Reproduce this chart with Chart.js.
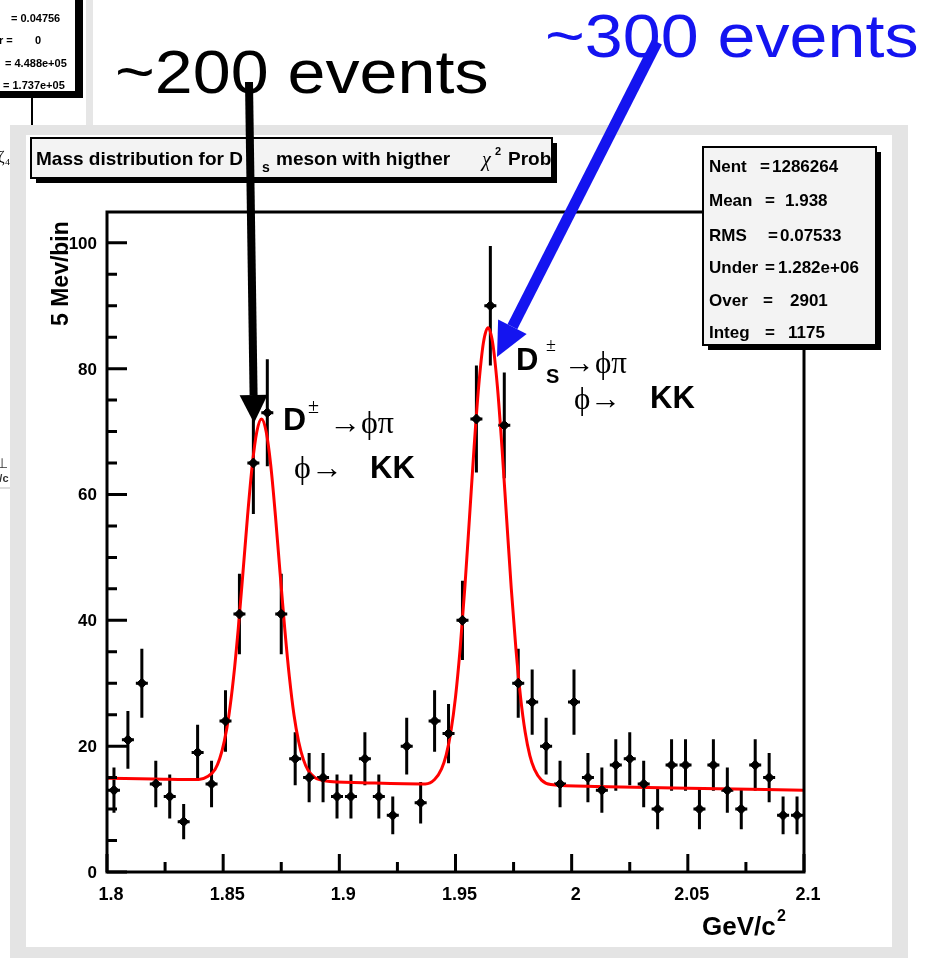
<!DOCTYPE html>
<html>
<head>
<meta charset="utf-8">
<script src="https://cdn.jsdelivr.net/npm/chart.js@4.4.1/dist/chart.umd.min.js"></script>
<style>
  html, body { margin: 0; padding: 0; background: #fff; overflow: hidden; }
  canvas { display: block; }
</style>
</head>
<body>
<canvas id="c" width="933" height="958"></canvas>
<script>
// histogram: 50 bins from 1.8 to 2.1 GeV/c^2
const xRange = [1.8, 2.1];
const counts = [13, 21, 30, 14, 12, 8, 19, 14, 24, 41,
                65, 73, 41, 18, 15, 15, 12, 12, 18, 12,
                9, 20, 11, 24, 22, 40, 72, 90, 71, 30,
                27, 20, 14, 27, 15, 13, 17, 18, 14, 10,
                17, 17, 10, 17, 13, 10, 17, 15, 9, 9];
const errors = [3.6, 4.6, 5.5, 3.7, 3.5, 2.8, 4.4, 3.7, 4.9, 6.4,
                8.1, 8.5, 6.4, 4.2, 3.9, 3.9, 3.5, 3.5, 4.2, 3.5,
                3.0, 4.5, 3.3, 4.9, 4.7, 6.3, 8.5, 9.5, 8.4, 5.5,
                5.2, 4.5, 3.7, 5.2, 3.9, 3.6, 4.1, 4.2, 3.7, 3.2,
                4.1, 4.1, 3.2, 4.1, 3.6, 3.2, 4.1, 3.9, 3.0, 3.0];

// red fit curve
const fitX = [1.800, 1.820, 1.8395, 1.8435, 1.8465, 1.8485, 1.8505, 1.8525, 1.8545, 1.8565,
              1.8585, 1.8605, 1.8625, 1.8645, 1.8665, 1.8685, 1.8705, 1.8725, 1.8745, 1.8765,
              1.8785, 1.8805, 1.8825, 1.8845, 1.8865, 1.8895, 1.8935, 1.910, 1.937, 1.941,
              1.944, 1.946, 1.948, 1.950, 1.952, 1.954, 1.956, 1.958, 1.960, 1.962,
              1.964, 1.966, 1.968, 1.970, 1.972, 1.974, 1.976, 1.978, 1.980, 1.982,
              1.984, 1.987, 1.991, 2.010, 2.050, 2.100];
const fitY = [14.9, 14.8, 14.7, 15.2, 16.3, 18.0, 20.8, 25.0, 31.0, 38.7,
              47.5, 56.6, 64.6, 70.0, 72.0, 70.0, 64.6, 56.6, 47.5, 38.7,
              31.0, 24.9, 20.7, 17.9, 16.2, 15.0, 14.5, 14.2, 14.0, 14.7,
              16.4, 18.6, 22.3, 27.8, 35.5, 45.1, 56.2, 67.5, 77.3, 84.1,
              86.5, 84.1, 77.3, 67.5, 56.2, 45.1, 35.5, 27.8, 22.2, 18.5,
              16.3, 14.6, 13.9, 13.6, 13.3, 13.0];

const xTickLabels = [1.8, 1.85, 1.9, 1.95, 2, 2.05, 2.1];
const yTickLabels = [0, 20, 40, 60, 80, 100];

const titleText = ['Mass distribution for D', 's', 'meson with higther', '\u03c7', '2', 'Prob'];
const statsLabels = ['Nent', 'Mean', 'RMS', 'Under', 'Over', 'Integ'];
const statsValues = ['1286264', '1.938', '0.07533', '1.282e+06', '2901', '1175'];
const sideStats = ['= 0.04756', 'r =', '0', '= 4.488e+05', '= 1.737e+05'];

const binW = (xRange[1] - xRange[0]) / counts.length;
const points = counts.map((c, i) => ({ x: xRange[0] + (i + 0.5) * binW, y: c }));
const fitPts = fitX.map((x, i) => ({ x: x, y: fitY[i] }));

const SANS = '"Liberation Sans", Arial, Helvetica, sans-serif';
const SERIF = '"Liberation Serif", "DejaVu Serif", serif';

function txt(ctx, s, x, y, font, color, align, sx) {
  ctx.save();
  ctx.font = font;
  ctx.fillStyle = color || '#000';
  ctx.textAlign = align || 'left';
  ctx.textBaseline = 'alphabetic';
  ctx.translate(x, y);
  ctx.scale(sx || 1, 1);
  ctx.fillText(s, 0, 0);
  ctx.restore();
}

function paveBox(ctx, x, y, w, h, fill) {
  ctx.fillStyle = '#000';
  ctx.fillRect(x + 5, y + 5, w, h);
  ctx.fillStyle = fill;
  ctx.fillRect(x, y, w, h);
  ctx.strokeStyle = '#000';
  ctx.lineWidth = 2;
  ctx.strokeRect(x, y, w, h);
}

function arrow(ctx, x0, y0, x1, y1, width, headLen, headW, color) {
  const dx = x1 - x0, dy = y1 - y0, L = Math.hypot(dx, dy);
  const ux = dx / L, uy = dy / L, px = -uy, py = ux;
  const bx = x1 - ux * headLen, by = y1 - uy * headLen;
  ctx.strokeStyle = color;
  ctx.lineWidth = width;
  ctx.beginPath();
  ctx.moveTo(x0, y0);
  ctx.lineTo(bx, by);
  ctx.stroke();
  ctx.fillStyle = color;
  ctx.beginPath();
  ctx.moveTo(x1, y1);
  ctx.lineTo(bx + px * headW, by + py * headW);
  ctx.lineTo(bx - px * headW, by - py * headW);
  ctx.closePath();
  ctx.fill();
}

const rootPad = {
  id: 'rootPad',
  beforeDraw(chart) {
    const ctx = chart.ctx;
    ctx.save();
    ctx.fillStyle = '#fff';
    ctx.fillRect(0, 0, chart.width, chart.height);

    // neighbouring pad left-overs (top left)
    ctx.fillStyle = '#e6e6e6';
    ctx.fillRect(86, 0, 7, 126);
    ctx.fillStyle = '#000';
    ctx.fillRect(-10, -10, 93, 108);
    ctx.fillStyle = '#fff';
    ctx.fillRect(-10, -10, 86, 102);
    ctx.strokeStyle = '#000';
    ctx.lineWidth = 2;
    ctx.strokeRect(-10, -10, 86, 102);
    txt(ctx, sideStats[0], 11, 22, 'bold 11px ' + SANS, '#000');
    txt(ctx, sideStats[1], -1, 44, 'bold 11px ' + SANS, '#000');
    txt(ctx, sideStats[2], 35, 44, 'bold 11px ' + SANS, '#000');
    txt(ctx, sideStats[3], 5, 67, 'bold 11px ' + SANS, '#000');
    txt(ctx, sideStats[4], 3, 89, 'bold 11px ' + SANS, '#000');
    ctx.fillStyle = '#000';
    ctx.fillRect(31, 97, 2, 28);

    // left margin fragments
    ctx.save();
    ctx.beginPath();
    ctx.rect(0, 0, 10, 958);
    ctx.clip();
    txt(ctx, '\u03b6\u2084', -2, 162, '16px ' + SERIF, '#000');
    txt(ctx, '\u22a5', -4, 468, '14px ' + SANS, '#333');
    txt(ctx, 'V/c', -8, 482, 'bold 11px ' + SANS, '#333');
    ctx.fillStyle = '#ddd';
    ctx.fillRect(0, 487, 10, 2);
    ctx.restore();

    // grey pad border
    ctx.fillStyle = '#e4e4e4';
    ctx.fillRect(10, 125, 898, 833);
    ctx.fillStyle = '#fff';
    ctx.fillRect(26, 135, 866, 812);
    ctx.restore();
  },
  beforeDatasetsDraw(chart) {
    const ctx = chart.ctx, xs = chart.scales.x, ys = chart.scales.y;
    ctx.save();
    ctx.strokeStyle = '#000';
    ctx.lineWidth = 3;
    points.forEach((p, i) => {
      const px = xs.getPixelForValue(p.x);
      const top = ys.getPixelForValue(p.y + errors[i]);
      const bot = ys.getPixelForValue(p.y - errors[i]);
      const py = ys.getPixelForValue(p.y);
      ctx.beginPath();
      ctx.moveTo(px, top);
      ctx.lineTo(px, bot);
      ctx.moveTo(px - 6, py);
      ctx.lineTo(px + 6, py);
      ctx.stroke();
    });
    ctx.restore();
  },
  afterDatasetsDraw(chart) {
    const ctx = chart.ctx, xs = chart.scales.x, ys = chart.scales.y;
    const a = chart.chartArea;
    ctx.save();
    ctx.strokeStyle = '#000';
    ctx.lineWidth = 3;
    ctx.strokeRect(a.left, a.top, a.right - a.left, a.bottom - a.top);

    // x ticks (inward) and labels
    ctx.beginPath();
    xTickLabels.forEach((v, i) => {
      const px = xs.getPixelForValue(v);
      ctx.moveTo(px, a.bottom);
      ctx.lineTo(px, a.bottom - 18);
      if (i < xTickLabels.length - 1) {
        const mx = xs.getPixelForValue((v + xTickLabels[i + 1]) / 2);
        ctx.moveTo(mx, a.bottom);
        ctx.lineTo(mx, a.bottom - 10);
      }
    });
    // y ticks
    yTickLabels.forEach((v, i) => {
      const py = ys.getPixelForValue(v);
      ctx.moveTo(a.left, py);
      ctx.lineTo(a.left + 20, py);
      const step = (yTickLabels[1] - yTickLabels[0]) / 4;
      for (let k = 1; k < 4; k++) {
        const mv = v + k * step;
        if (mv > ys.max) break;
        const my = ys.getPixelForValue(mv);
        ctx.moveTo(a.left, my);
        ctx.lineTo(a.left + 10, my);
      }
    });
    ctx.stroke();

    xTickLabels.forEach(v => {
      txt(ctx, String(v), xs.getPixelForValue(v) + 4, a.bottom + 28, 'bold 18px ' + SANS, '#000', 'center');
    });
    yTickLabels.forEach(v => {
      txt(ctx, String(v), a.left - 10, ys.getPixelForValue(v) + 6, 'bold 17px ' + SANS, '#000', 'right');
    });

    // axis titles
    txt(ctx, 'GeV/c', 702, 935, 'bold 26px ' + SANS, '#000');
    txt(ctx, '2', 777, 921, 'bold 16px ' + SANS, '#000');
    ctx.save();
    ctx.translate(68, 326);
    ctx.rotate(-Math.PI / 2);
    txt(ctx, '5 Mev/bin', 0, 0, 'bold 23px ' + SANS, '#000');
    ctx.restore();
    ctx.restore();
  },
  afterDraw(chart) {
    const ctx = chart.ctx;
    ctx.save();

    // title pave
    paveBox(ctx, 31, 138, 521, 40, '#f3f3f3');
    txt(ctx, titleText[0], 36, 165, 'bold 19px ' + SANS, '#000');
    txt(ctx, titleText[1], 262, 172, 'bold 14px ' + SANS, '#000');
    txt(ctx, titleText[2], 276, 165, 'bold 19px ' + SANS, '#000');
    txt(ctx, titleText[3], 482, 166, 'italic 20px ' + SERIF, '#000');
    txt(ctx, titleText[4], 495, 155, 'bold 11px ' + SANS, '#000');
    txt(ctx, titleText[5], 508, 165, 'bold 19px ' + SANS, '#000');

    // stats pave
    paveBox(ctx, 703, 147, 173, 198, '#f3f3f3');
    ctx.save();
    ctx.beginPath();
    ctx.rect(703, 147, 173, 198);
    ctx.clip();
    const eqX = [760, 765, 768, 765, 763, 765];
    const valX = [772, 785, 780, 778, 790, 788];
    const base = [172, 206, 241, 273, 306, 338];
    statsLabels.forEach((s, i) => {
      txt(ctx, s, 709, base[i], 'bold 17px ' + SANS, '#000');
      txt(ctx, '=', eqX[i], base[i], 'bold 17px ' + SANS, '#000');
      txt(ctx, statsValues[i], valX[i], base[i], 'bold 17px ' + SANS, '#000');
    });
    ctx.restore();

    // peak labels
    txt(ctx, 'D', 283, 430, 'bold 32px ' + SANS, '#000');
    txt(ctx, '\u00b1', 308, 413, '20px ' + SERIF, '#000');
    txt(ctx, '\u2192\u03d5\u03c0', 329, 433, '32px ' + SERIF, '#000');
    txt(ctx, '\u03d5\u2192', 294, 478, '32px ' + SERIF, '#000');
    txt(ctx, 'KK', 370, 478, 'bold 31px ' + SANS, '#000');

    txt(ctx, 'D', 516, 370, 'bold 31px ' + SANS, '#000');
    txt(ctx, 'S', 546, 383, 'bold 20px ' + SANS, '#000');
    txt(ctx, '\u00b1', 546, 351, '18px ' + SERIF, '#000');
    txt(ctx, '\u2192\u03d5\u03c0', 564, 373, '31px ' + SERIF, '#000');
    txt(ctx, '\u03d5\u2192', 574, 409, '31px ' + SERIF, '#000');
    txt(ctx, 'KK', 650, 408, 'bold 31px ' + SANS, '#000');

    // event count callouts
    txt(ctx, '~200 events', 115, 93, '62px ' + SANS, '#000', 'left', 1.1);
    txt(ctx, '~300 events', 545, 57, '62px ' + SANS, '#1414f0', 'left', 1.1);
    arrow(ctx, 249, 82, 254, 423, 8, 28, 14, '#000');
    arrow(ctx, 657, 42, 497, 357, 11, 34, 16, '#1414f0');

    ctx.restore();
  }
};

new Chart(document.getElementById('c'), {
  type: 'scatter',
  data: {
    datasets: [
      {
        label: 'fit',
        data: fitPts,
        showLine: true,
        borderColor: '#ff0000',
        borderWidth: 3,
        pointRadius: 0,
        cubicInterpolationMode: 'monotone',
        order: 2
      },
      {
        label: 'data',
        data: points,
        pointStyle: 'rectRot',
        pointRadius: 5,
        backgroundColor: '#000',
        borderColor: '#000',
        borderWidth: 1,
        order: 1
      }
    ]
  },
  options: {
    responsive: false,
    animation: false,
    devicePixelRatio: 1,
    layout: { padding: { left: 0, top: 212, right: 129, bottom: 0 } },
    plugins: {
      legend: { display: false },
      tooltip: { enabled: false },
      title: { display: false }
    },
    scales: {
      x: {
        type: 'linear',
        min: xRange[0],
        max: xRange[1],
        grid: { display: false },
        border: { display: false },
        ticks: { display: false },
        afterFit(s) { s.height = 86; }
      },
      y: {
        min: 0,
        max: 104.9,
        grid: { display: false },
        border: { display: false },
        ticks: { display: false },
        afterFit(s) { s.width = 107; }
      }
    }
  },
  plugins: [rootPad]
});
</script>
</body>
</html>
